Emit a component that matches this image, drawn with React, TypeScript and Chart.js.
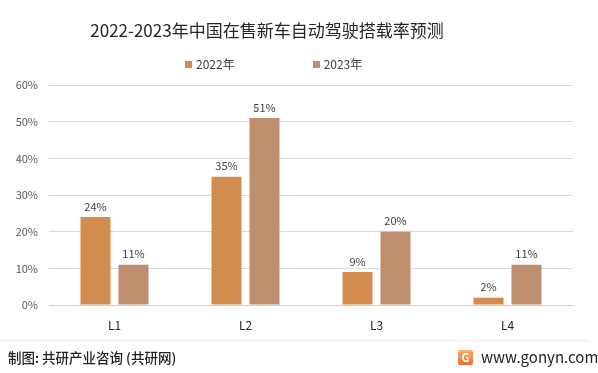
import React, { useEffect, useRef } from "react";
import { Chart, registerables } from "chart.js";

Chart.register(...registerables);

const categories = ["L1", "L2", "L3", "L4"];
const seriesNames = ["2022年", "2023年"];
const values2022 = [24, 35, 9, 2];
const values2023 = [11, 51, 20, 11];
const yTicks = [0, 10, 20, 30, 40, 50, 60];
const colors = ["#D38C4F", "#BD8F6E"];

const FONT = "'Noto Sans CJK SC', 'Noto Sans', sans-serif";

const valueLabels = {
  id: "valueLabels",
  afterDatasetsDraw(chart: any) {
    const ctx = chart.ctx;
    ctx.save();
    ctx.font = `11px ${FONT}`;
    ctx.fillStyle = "#404040";
    ctx.textAlign = "center";
    ctx.textBaseline = "bottom";
    chart.data.datasets.forEach((ds: any, di: number) => {
      const meta = chart.getDatasetMeta(di);
      meta.data.forEach((bar: any, i: number) => {
        ctx.fillText(ds.data[i] + "%", bar.x, bar.y - 5);
      });
    });
    ctx.restore();
  },
};

export default function App() {
  const ref = useRef<HTMLCanvasElement | null>(null);
  useEffect(() => {
    document.body.style.margin = "0";
    const chart = new Chart(ref.current as HTMLCanvasElement, {
      type: "bar",
      data: {
        labels: categories,
        datasets: [
          { label: seriesNames[0], data: values2022, backgroundColor: colors[0] },
          { label: seriesNames[1], data: values2023, backgroundColor: colors[1] },
        ],
      },
      options: {
        responsive: false,
        animation: false,
        layout: { padding: { top: 85, bottom: 33, left: 0, right: 25 } },
        datasets: { bar: { categoryPercentage: 0.58, barPercentage: 0.79 } } as any,
        plugins: {
          legend: { display: false },
          title: { display: false },
          tooltip: { enabled: false },
        },
        scales: {
          x: {
            grid: { display: false, drawTicks: false },
            border: { color: "#d0d0d0" },
            ticks: { color: "#262626", font: { family: FONT, size: 12 }, padding: 13 },
            afterFit: (s: any) => { s.height = 35; },
          },
          y: {
            min: 0,
            max: 60,
            afterBuildTicks: (s: any) => { s.ticks = yTicks.map((v) => ({ value: v })); },
            grid: { color: "#d9d9d9", drawTicks: false },
            border: { display: false },
            ticks: {
              color: "#595959",
              font: { family: FONT, size: 11 },
              padding: 11,
              callback: (v: any) => v + "%",
            },
            afterFit: (s: any) => { s.width = 49; },
          },
        },
      },
      plugins: [valueLabels],
    });
    return () => chart.destroy();
  }, []);

  return (
    <div style={{ position: "relative", width: 598, height: 373, background: "#fff", fontFamily: FONT }}>
      <canvas ref={ref} width={598} height={373} style={{ position: "absolute", left: 0, top: 0 }} />
      <div style={{ position: "absolute", left: 0, width: 534, top: 18, textAlign: "center", fontSize: 17, color: "#262626", lineHeight: "24px" }}>
        2022-2023年中国在售新车自动驾驶搭载率预测
      </div>
      <div style={{ position: "absolute", left: 185, top: 56, fontSize: 12, color: "#404040", lineHeight: "16px", display: "flex", alignItems: "center" }}>
        <span style={{ display: "inline-block", width: 7, height: 7, background: colors[0], marginRight: 4 }} />
        <span>{seriesNames[0]}</span>
        <span style={{ display: "inline-block", width: 7, height: 7, background: colors[1], marginLeft: 78, marginRight: 4 }} />
        <span>{seriesNames[1]}</span>
      </div>
      <div style={{ position: "absolute", left: 0, width: 590, top: 340, height: 1, background: "#ececec" }} />
      <div style={{ position: "absolute", left: 8, top: 348, fontSize: 13.5, color: "#222", lineHeight: "18px", fontWeight: 500 }}>
        制图: 共研产业咨询 (共研网)
      </div>
      <div style={{ position: "absolute", left: 458, top: 348, display: "flex", alignItems: "center", lineHeight: "18px" }}>
        <span style={{ display: "inline-block", width: 15, height: 15, borderRadius: 2, background: "linear-gradient(180deg,#f9b46a,#ef6b3a)", color: "#fff", fontSize: 11, fontWeight: 700, textAlign: "center", lineHeight: "15px", marginRight: 8 }}>G</span>
        <span style={{ fontSize: 15, color: "#222" }}>www.gonyn.com</span>
      </div>
    </div>
  );
}
